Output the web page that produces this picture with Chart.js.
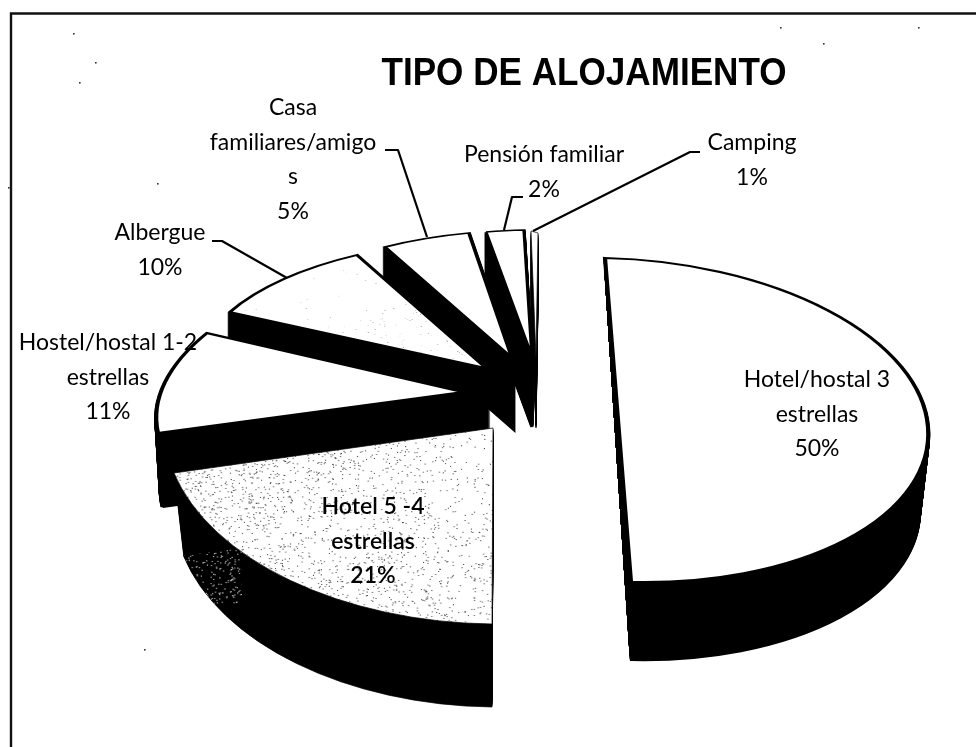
<!DOCTYPE html>
<html><head><meta charset="utf-8">
<style>html,body{margin:0;padding:0;background:#fff}canvas{display:block}</style>
<script src="https://cdn.jsdelivr.net/npm/chart.js@4/dist/chart.umd.min.js"></script>
</head><body><canvas id="c" width="976" height="747"></canvas>
<script>
const chartTitle = 'TIPO DE ALOJAMIENTO';
const categories = ['Hotel/hostal 3|estrellas','Hotel 5 -4|estrellas','Hostel/hostal 1-2|estrellas','Albergue','Casa|familiares/amigo|s','Pensión familiar','Camping'];
const shares = [50,21,11,10,5,2,1];

// Look of the tilted 3D slices (one entry per slice): tip, two rim anchors, fraction of sweep of 2nd anchor.
const sliceTip   = [[618,420],[493,428],[463,392],[486,368],[512,358],[532,357],[536,358]];
const sliceRimA  = [[605,258],[492,624],[158,433],[230,312],[385,247],[486,232],[531,231]];
const sliceRimB  = [[928,427],[174,473],[207,333],[357,255],[469,233],[524,230],[538,233]];
const rimBSweep  = [0.5,1,1,1,1,1,1];
const sliceDepth = [78,83,74,70,70,70,70];
const sideTaper  = [0.03,0.03,0.015,0,0,0,0];
const sliceEdge  = [5,1,5,5,5,4,2];
const drawOrder  = [6,5,4,3,2,1,0];
const labelCentre = [[817,380],[373,507],[108,343],[160,233],[293,108],[544,155],[752,143]];
const leaders = [[[385,150],[398,150],[427,237]],[[212,241],[222,241],[287,278]],[[523,197],[512,197],[504,230]],[[700,152],[690,152],[533,231]]];
const dustSpecks = [[823,43],[918,27],[144,649],[73,33],[95,62],[79,82],[157,183],[8,187],[780,27]];
const lineGap = 34.5;

function noise(i){const x=Math.sin(i*12.9898+4.1)*43758.5453;return x-Math.floor(x);}
const CW=976,CH=747,RAD=373.5;
// stipple tile in chart space; weight(theta,r) gives local density
function stipple(count,bg,dot,seed,w,h,weight){
  const t=document.createElement('canvas');t.width=CW;t.height=CH;const g=t.getContext('2d');
  if(bg){g.fillStyle=bg;g.fillRect(0,0,CW,CH);}
  g.fillStyle=dot;
  for(let i=0;i<count;i++){
    const x=noise(seed+i*3)*CW,y=noise(seed+i*3+1)*CH,p=noise(seed+i*3+2);
    const dx=x-CW/2,dy=y-CH/2,r=Math.hypot(dx,dy)/RAD;
    let th=Math.atan2(dx,-dy)*180/Math.PI;if(th<0)th+=360;
    if(p<weight(th,r)) g.fillRect(x,y,w,h);
  }
  return t;
}
const ctx0=document.getElementById('c').getContext('2d');
const heavy=ctx0.createPattern(stipple(26000,'#ffffff','#3a3a3a',11,1.1,2,(th,r)=>{
  const n=(th-180)/75; // 0 at the vertical edge, 1 at the upper edge
  return 0.22+0.6*Math.pow(Math.max(0,n),3)*Math.min(1,r*1.6)+(th<215&&r>0.45?0.2:0)+(r>0.85?0.08:0);
}),'no-repeat');
const light=ctx0.createPattern(stipple(5000,'#ffffff','#8a8a8a',50000,1,1.8,(th,r)=>r<0.6?0.55:0.12),'no-repeat');
const specks=ctx0.createPattern(stipple(22000,null,'#bdbdbd',90000,1.3,2.2,()=>0.9),'no-repeat');
const faceFill=['#ffffff',heavy,'#ffffff',light,'#ffffff','#ffffff','#ffffff'];

function mapping(i,arc){
  const C=sliceTip[i],A=sliceRimA[i],B=sliceRimB[i];
  const a1=arc.startAngle,a2=a1+(arc.endAngle-arc.startAngle)*rimBSweep[i];
  const c1=Math.cos(a1),s1=Math.sin(a1),c2=Math.cos(a2),s2=Math.sin(a2),det=c1*s2-c2*s1;
  const ax=A[0]-C[0],ay=A[1]-C[1],bx=B[0]-C[0],by=B[1]-C[1];
  return [(ax*s2-bx*s1)/det,(ay*s2-by*s1)/det,(bx*c1-ax*c2)/det,(by*c1-ay*c2)/det];
}
function paintArc(ctx,arc,i,dy,style){
  const m=mapping(i,arc),R=arc.outerRadius,saved=arc.options;
  const k=1-sideTaper[i]*dy/sliceDepth[i];
  ctx.save();
  ctx.translate(sliceTip[i][0],sliceTip[i][1]+dy);
  ctx.transform(k*m[0]/R,m[1]/R,k*m[2]/R,m[3]/R,0,0);
  ctx.translate(-arc.x,-arc.y);
  arc.options={backgroundColor:style.fill,borderColor:style.line,borderWidth:style.width,borderAlign:'center',
    borderJoinStyle:'miter',borderDash:[],borderDashOffset:0,borderRadius:0,spacing:0,offset:0,circular:true};
  arc.draw(ctx);
  arc.options=saved;
  ctx.restore();
}
const pie3d={id:'pie3d',
  beforeDatasetDraw(chart){
    const ctx=chart.ctx,arcs=chart.getDatasetMeta(0).data;
    drawOrder.forEach(i=>{
      const arc=arcs[i];
      ctx.save();
      if(i===0){ // straight outer side on the big slice
        ctx.beginPath();ctx.moveTo(603,250);ctx.lineTo(630,662);ctx.lineTo(976,662);ctx.lineTo(976,250);ctx.closePath();ctx.clip();
      }
      for(let d=sliceDepth[i];d>=1;d--) paintArc(ctx,arc,i,d,{fill:'#000',line:'#000',width:sliceEdge[i]});
      ctx.restore();
      if(i===1){
        ctx.save();ctx.beginPath();ctx.rect(170,470,72,135);ctx.clip();
        paintArc(ctx,arc,i,sliceDepth[i],{fill:specks,line:'rgba(0,0,0,0)',width:0});
        ctx.restore();
      }
      paintArc(ctx,arc,i,0,{fill:faceFill[i],line:'#000',width:sliceEdge[i]});
    });
    return false;
  },
  afterDraw(chart){
    const ctx=chart.ctx;
    ctx.save();
    ctx.strokeStyle='#111';ctx.lineWidth=2.4;
    ctx.beginPath();ctx.moveTo(11,747);ctx.lineTo(11,13.5);ctx.lineTo(976,13.5);ctx.stroke();
    ctx.fillStyle='#333';
    dustSpecks.forEach(p=>ctx.fillRect(p[0],p[1],1.6,1.6));
    ctx.strokeStyle='#000';ctx.lineWidth=2.2;ctx.lineJoin='round';
    leaders.forEach(l=>{ctx.beginPath();l.forEach((p,k)=>k?ctx.lineTo(p[0],p[1]):ctx.moveTo(p[0],p[1]));ctx.stroke();});
    ctx.fillStyle='#000';ctx.textAlign='center';ctx.textBaseline='middle';
    ctx.font='bold 39px "Liberation Sans"';
    ctx.fillText(chartTitle,584,74,405);
    categories.forEach((c,i)=>{
      const lines=c.split('|').concat(shares[i]+'%');
      ctx.font=(i===1?'600 ':'')+'23px Lato';
      lines.forEach((t,k)=>ctx.fillText(t,labelCentre[i][0],labelCentre[i][1]+k*lineGap));
    });
    ctx.restore();
  }
};
new Chart(document.getElementById('c'),{
  type:'pie',
  data:{labels:categories.map(c=>c.replace(/\|/g,' ')),datasets:[{data:shares,backgroundColor:faceFill,borderColor:'#000',borderWidth:sliceEdge}]},
  options:{responsive:false,animation:false,events:[],layout:{padding:0},
    plugins:{legend:{display:false},tooltip:{enabled:false},title:{display:false}}},
  plugins:[pie3d]
});
</script></body></html>
